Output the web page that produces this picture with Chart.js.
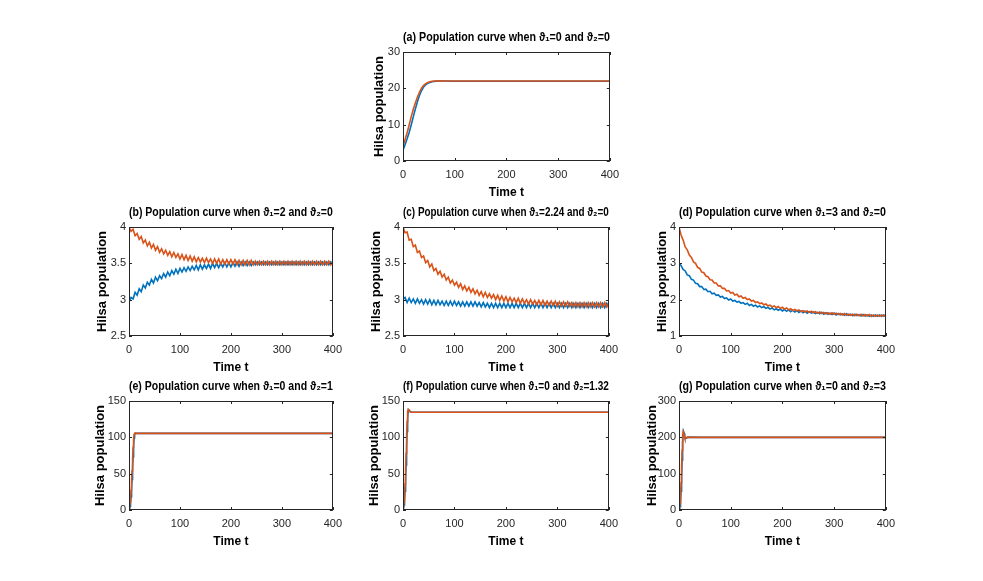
<!DOCTYPE html>
<html>
<head>
<meta charset="utf-8">
<script src="https://cdn.jsdelivr.net/npm/chart.js@4.4.1/dist/chart.umd.min.js"></script>
<style>
body{margin:0;background:#fff;}
#fig{position:relative;width:983px;height:581px;overflow:hidden;background:#fff;}
#fig canvas{position:absolute;}
</style>
</head>
<body>
<div id="fig"></div>
<script>
// time samples shared by panels b, c, d
const timesT=[0,4,8,12,16,20,24,28,32,36,40,44,48,52,56,60,64,68,72,76,80,84,88,92,96,100,
104,108,112,116,120,124,128,132,136,140,144,148,152,156,160,164,168,172,176,180,184,188,192,196,200,
204,208,212,216,220,224,228,232,236,240,244,248,252,256,260,264,268,272,276,280,284,288,292,296,300,
304,308,312,316,320,324,328,332,336,340,344,348,352,356,360,364,368,372,376,380,384,388,392,396,400];

// (a)
const timesA=[0,4,8,12,16,20,24,28,32,36,40,44,48,52,56,60,70,80,100,150,200,250,300,350,400];
const aBlue=[3.0,4.5,6.1,7.9,10.0,12.2,14.4,16.4,18.1,19.4,20.4,21.0,21.4,21.6,21.8,21.9,22.0,22.0,21.95,21.95,21.95,21.95,21.95,21.95,21.95];
const aOrange=[4.0,5.9,7.8,10.0,12.2,14.3,16.0,17.6,19.0,20.1,20.8,21.3,21.6,21.8,21.95,22.0,22.05,22.0,22.0,22.0,22.0,22.0,22.0,22.0,22.0];

// (b)
const bBlue=[2.97,3.03,3.01,3.10,3.06,3.15,3.11,3.20,3.16,3.24,3.20,
3.28,3.23,3.31,3.26,3.33,3.29,3.36,3.31,3.38,3.33,
3.40,3.35,3.42,3.36,3.43,3.38,3.44,3.39,3.45,3.40,
3.46,3.41,3.47,3.41,3.48,3.42,3.48,3.43,3.49,3.43,
3.50,3.44,3.50,3.44,3.50,3.45,3.51,3.45,3.51,3.45,
3.51,3.46,3.52,3.46,3.52,3.47,3.52,3.47,3.52,3.47,
3.52,3.48,3.52,3.48,3.52,3.48,3.52,3.48,3.52,3.48,
3.52,3.48,3.52,3.48,3.52,3.48,3.52,3.48,3.52,3.48,
3.52,3.48,3.52,3.48,3.52,3.48,3.52,3.48,3.52,3.48,
3.52,3.48,3.52,3.48,3.52,3.48,3.52,3.48,3.52,3.48];
const bOrange=[4.00,3.94,3.97,3.88,3.91,3.83,3.87,3.78,3.82,3.74,3.79,
3.71,3.76,3.68,3.73,3.65,3.70,3.63,3.68,3.61,3.66,
3.59,3.65,3.58,3.63,3.56,3.62,3.55,3.61,3.54,3.60,
3.53,3.59,3.52,3.58,3.52,3.57,3.51,3.57,3.51,3.56,
3.50,3.56,3.50,3.56,3.49,3.55,3.49,3.55,3.49,3.55,
3.49,3.55,3.48,3.54,3.48,3.54,3.48,3.54,3.48,3.54,
3.48,3.53,3.48,3.53,3.48,3.53,3.48,3.53,3.48,3.53,
3.48,3.53,3.48,3.53,3.48,3.53,3.48,3.53,3.48,3.53,
3.48,3.53,3.48,3.53,3.48,3.53,3.48,3.53,3.48,3.53,
3.48,3.53,3.48,3.53,3.48,3.53,3.48,3.53,3.48,3.53];

// (c)
const cBlue=[3.00,3.03,2.96,3.02,2.96,3.01,2.95,3.01,2.95,3.00,2.94,
3.00,2.94,3.00,2.93,2.99,2.93,2.99,2.93,2.98,2.92,
2.98,2.92,2.98,2.92,2.98,2.92,2.97,2.91,2.97,2.91,
2.97,2.91,2.97,2.91,2.97,2.91,2.96,2.90,2.96,2.90,
2.95,2.89,2.95,2.89,2.95,2.89,2.95,2.89,2.95,2.89,
2.95,2.89,2.95,2.89,2.95,2.89,2.95,2.89,2.95,2.89,
2.95,2.89,2.95,2.89,2.95,2.89,2.95,2.89,2.95,2.89,
2.95,2.89,2.95,2.89,2.95,2.89,2.95,2.89,2.95,2.89,
2.95,2.89,2.95,2.89,2.95,2.89,2.95,2.89,2.95,2.89,
2.95,2.89,2.95,2.89,2.95,2.89,2.95,2.89,2.95,2.89];
const cOrange=[4.00,3.92,3.93,3.82,3.83,3.73,3.75,3.65,3.67,3.58,3.60,
3.51,3.54,3.45,3.49,3.40,3.43,3.35,3.39,3.31,3.35,
3.27,3.31,3.23,3.27,3.20,3.24,3.17,3.22,3.14,3.19,
3.12,3.17,3.10,3.15,3.08,3.13,3.06,3.11,3.04,3.10,
3.03,3.08,3.02,3.07,3.00,3.06,2.99,3.05,2.98,3.04,
2.97,3.03,2.97,3.02,2.96,3.02,2.95,3.01,2.95,3.00,
2.94,3.00,2.94,2.99,2.93,2.99,2.93,2.99,2.92,2.98,
2.92,2.98,2.92,2.98,2.91,2.97,2.91,2.97,2.91,2.97,
2.91,2.96,2.90,2.96,2.90,2.96,2.90,2.96,2.90,2.96,
2.90,2.96,2.90,2.96,2.90,2.96,2.90,2.96,2.90,2.96];

// (d)
const dBlue=[3.00,2.94,2.83,2.79,2.68,2.66,2.56,2.54,2.45,2.44,2.36,
2.36,2.28,2.29,2.22,2.23,2.16,2.18,2.12,2.13,2.07,
2.09,2.03,2.05,1.99,2.02,1.96,1.98,1.93,1.95,1.90,
1.92,1.87,1.90,1.84,1.87,1.82,1.85,1.80,1.83,1.78,
1.81,1.76,1.79,1.74,1.77,1.72,1.75,1.71,1.74,1.69,
1.73,1.68,1.72,1.67,1.71,1.66,1.70,1.65,1.69,1.64,
1.68,1.63,1.67,1.63,1.66,1.62,1.65,1.61,1.65,1.60,
1.64,1.60,1.63,1.59,1.63,1.58,1.62,1.58,1.61,1.57,
1.61,1.57,1.60,1.56,1.60,1.56,1.59,1.55,1.59,1.55,
1.58,1.54,1.58,1.54,1.58,1.54,1.58,1.54,1.58,1.54];
const dOrange=[4.00,3.78,3.64,3.45,3.37,3.23,3.16,3.04,3.00,2.89,2.86,
2.76,2.74,2.65,2.63,2.55,2.54,2.46,2.46,2.38,2.38,
2.31,2.31,2.24,2.25,2.18,2.20,2.13,2.15,2.08,2.10,
2.04,2.06,2.00,2.02,1.96,1.98,1.92,1.94,1.89,1.91,
1.86,1.88,1.83,1.85,1.80,1.83,1.78,1.81,1.76,1.79,
1.74,1.77,1.72,1.75,1.70,1.73,1.69,1.72,1.67,1.70,
1.66,1.69,1.65,1.68,1.64,1.67,1.63,1.66,1.62,1.65,
1.61,1.64,1.60,1.64,1.60,1.63,1.59,1.62,1.58,1.62,
1.57,1.60,1.57,1.60,1.56,1.60,1.56,1.60,1.55,1.59,
1.55,1.59,1.54,1.58,1.54,1.58,1.54,1.58,1.54,1.58];

// (e), (f), (g): fast rise then flat
const timesE=[0,1,2,3,4,5,6,7,8,9,10,11,12,14,16,20,40,100,200,300,400];
const eBlue=[0.5,2,5,10,18,29,42,57,73,88,99,104,105.5,105.6,105.5,105.5,105.5,105.5,105.5,105.5,105.5];
const eOrange=[2,5,10,17,27,40,54,70,86,98,104,105.5,105.8,105.5,105.5,105.5,105.5,105.5,105.5,105.5,105.5];
const fBlue=[1,3,7,14,26,42,62,86,108,126,135.5,138,137.5,135.5,134.8,134.5,134.6,134.6,134.6,134.6,134.6];
const fOrange=[3,6,12,22,36,55,78,102,122,135,138.5,138,136.5,135,134.6,134.5,134.6,134.6,134.6,134.6,134.6];
const gBlue=[0,3,10,26,52,90,137,182,208,215,211,204,199,197.5,199.5,200.5,200,200,200,200,200];
const gOrange=[2,8,20,42,75,118,165,203,216,213,206,200,197.5,198.5,200.5,200,200,200,200,200,200];

const xTicks=[0,100,200,300,400];

const BLUE='#0072BD', ORANGE='#D95319', AXIS='#262626';
const NARROW="'Liberation Sans Narrow','Arial Narrow','Liberation Sans',sans-serif";
const WIDE="'Liberation Sans',Arial,sans-serif";

const panels=[
  {title:'(a) Population curve when \u03d1\u2081=0 and \u03d1\u2082=0', t:timesA, blue:aBlue, orange:aOrange, yMin:0, yMax:30, yStep:10, left:403, top:52, w:211, yOff:23},
  {title:'(b) Population curve when \u03d1\u2081=2 and \u03d1\u2082=0', t:timesT, blue:bBlue, orange:bOrange, yMin:2.5, yMax:4, yStep:0.5, left:129, top:227, w:208, yOff:26},
  {title:'(c) Population curve when \u03d1\u2081=2.24 and \u03d1\u2082=0', t:timesT, blue:cBlue, orange:cOrange, yMin:2.5, yMax:4, yStep:0.5, left:403, top:227, w:210, yOff:26},
  {title:'(d) Population curve when \u03d1\u2081=3 and \u03d1\u2082=0', t:timesT, blue:dBlue, orange:dOrange, yMin:1, yMax:4, yStep:1, left:679, top:227, w:211, yOff:16.5},
  {title:'(e) Population curve when \u03d1\u2081=0 and \u03d1\u2082=1', t:timesE, blue:eBlue, orange:eOrange, yMin:0, yMax:150, yStep:50, left:129, top:401, w:208, yOff:28.5},
  {title:'(f) Population curve when \u03d1\u2081=0 and \u03d1\u2082=1.32', t:timesE, blue:fBlue, orange:fOrange, yMin:0, yMax:150, yStep:50, left:403, top:401, w:210, yOff:28.5},
  {title:'(g) Population curve when \u03d1\u2081=0 and \u03d1\u2082=3', t:timesE, blue:gBlue, orange:gOrange, yMin:0, yMax:300, yStep:100, left:679, top:401, w:211, yOff:26.5}
];

const PLOT_H=109, TITLE_H=22, X_H=39, PAD_R=12;

// MATLAB style box with inward ticks on all four sides
const boxTicks={
  id:'boxTicks',
  afterDatasetsDraw(chart){
    const {ctx, chartArea:a, scales:{x,y}}=chart;
    const len=3;
    ctx.save();
    ctx.strokeStyle=AXIS;
    ctx.lineWidth=1;
    ctx.beginPath();
    x.ticks.forEach(tk=>{
      const px=Math.round(x.getPixelForValue(tk.value))+0.5;
      ctx.moveTo(px,a.bottom); ctx.lineTo(px,a.bottom-len);
      ctx.moveTo(px,a.top); ctx.lineTo(px,a.top+len);
    });
    y.ticks.forEach(tk=>{
      const py=Math.round(y.getPixelForValue(tk.value))+0.5;
      ctx.moveTo(a.left,py); ctx.lineTo(a.left+len,py);
      ctx.moveTo(a.right,py); ctx.lineTo(a.right-len,py);
    });
    ctx.stroke();
    ctx.strokeRect(Math.round(a.left)+0.5,Math.round(a.top)+0.5,Math.round(a.width)-1,Math.round(a.height)-1);
    ctx.restore();
  }
};

const pts=(t,v)=>t.map((x,i)=>({x:x,y:v[i]}));

const fig=document.getElementById('fig');
panels.forEach(p=>{
  const wy=Math.round(p.yOff+7.8);
  const cv=document.createElement('canvas');
  cv.width=wy+p.w+PAD_R;
  cv.height=TITLE_H+PLOT_H+X_H;
  cv.style.left=(p.left-wy)+'px';
  cv.style.top=(p.top-TITLE_H)+'px';
  fig.appendChild(cv);

  new Chart(cv,{
    type:'line',
    data:{datasets:[
      {label:'x1',data:pts(p.t,p.blue),borderColor:BLUE,borderWidth:1.6,pointRadius:0,tension:0,order:2},
      {label:'x2',data:pts(p.t,p.orange),borderColor:ORANGE,borderWidth:1.6,pointRadius:0,tension:0,order:1}
    ]},
    options:{
      responsive:false,
      animation:false,
      events:[],
      layout:{padding:{left:0,right:PAD_R,top:0,bottom:0}},
      plugins:{
        legend:{display:false},
        tooltip:{enabled:false},
        title:{
          display:true,
          text:p.title,
          fullSize:false,
          color:'#000',
          font:{family:NARROW,size:13,weight:'bold',lineHeight:1.2},
          padding:{top:0,bottom:6.4}
        }
      },
      scales:{
        x:{
          type:'linear',
          min:0,max:400,
          afterBuildTicks:s=>{s.ticks=xTicks.map(v=>({value:v}));},
          afterFit:s=>{s.height=X_H;},
          grid:{display:false,drawTicks:false},
          border:{display:false},
          ticks:{color:AXIS,padding:7,maxRotation:0,font:{family:NARROW,size:11}},
          title:{display:true,text:'Time t',color:'#000',padding:0,font:{family:NARROW,size:12,weight:'bold',lineHeight:1.2}}
        },
        y:{
          min:p.yMin,max:p.yMax,
          ticks:{stepSize:p.yStep,color:AXIS,padding:3,font:{family:NARROW,size:11},callback:v=>String(Math.round(v*100)/100)},
          afterFit:s=>{s.width=wy;},
          grid:{display:false,drawTicks:false},
          border:{display:false},
          title:{display:true,text:'Hilsa population',color:'#000',padding:0,font:{family:WIDE,size:13,weight:'bold',lineHeight:1.2}}
        }
      }
    },
    plugins:[boxTicks]
  });
});
</script>
</body>
</html>
